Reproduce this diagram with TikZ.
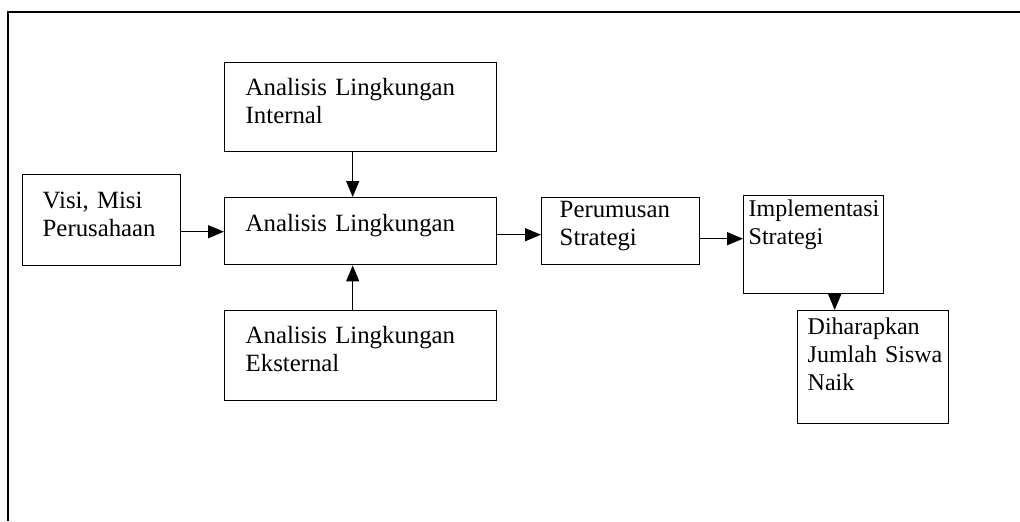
\documentclass[tikz,border=0pt]{standalone}
\usepackage{fontspec}
\setmainfont{Liberation Serif}
\usetikzlibrary{arrows.meta}

\begin{document}
\begin{tikzpicture}[x=0.5pt, y=-0.5pt, >={Triangle[length=8pt,width=6.5pt]},
    kotak/.style={draw, line width=0.7pt, anchor=north west, align=left,
        inner ysep=0pt, inner xsep=10pt,
        font=\fontsize{12.4}{14}\selectfont},
    kecil/.style={font=\fontsize{12}{14}\selectfont},
    panah/.style={->, line width=0.7pt}]
    % --- Impostazioni ---
    \def\lebar{115pt} % lebar teks kotak tengah
    \useasboundingbox (0,0) rectangle (1020,521);

    % --- Bingkai ---
    \draw[line width=1pt] (7.5,521) -- (7.5,12) -- (1020,12);

    % --- Kotak ---
    \node[kotak, text width=59pt, text height=16.8pt, text depth=28.7pt] (visi) at (22,174) {Visi, Misi\\Perusahaan};
    \node[kotak, inner xsep=10.5pt, text width=\lebar, text height=16.5pt, text depth=28pt] (intern) at (224,62) {Analisis Lingkungan\\Internal};
    \node[kotak, inner xsep=10.5pt, text width=\lebar, text height=17pt, text depth=16.5pt] (pusat) at (224,197) {Analisis Lingkungan};
    \node[kotak, inner xsep=10.5pt, text width=\lebar, text height=16.5pt, text depth=28.5pt] (ekstern) at (224,310) {Analisis Lingkungan\\Eksternal};
    \node[kotak, inner xsep=9pt, text width=61pt, text height=10pt, text depth=23.5pt] (rumus) at (541,197) {Perumusan\\Strategi};
    \node[kotak, kecil, inner xsep=2.5pt, text width=65pt, text height=10.5pt, text depth=38.5pt] (impl) at (743,195) {Implementasi\\Strategi};
    \node[kotak, kecil, inner xsep=5pt, text width=65.5pt, text height=12pt, text depth=44.5pt] (harap) at (797,310) {Diharapkan\\Jumlah~Siswa\\Naik};

    % --- Panah ---
    \draw[panah] (visi.east |- pusat.base) -- (pusat.base west);
    \coordinate (i1) at ([xshift=-4pt]intern.south);
    \draw[panah] (i1) -- (i1 |- pusat.north);
    \coordinate (e1) at ([xshift=-4pt]ekstern.north);
    \draw[panah] (e1) -- (e1 |- pusat.south);
    \coordinate (p1) at ([yshift=-1.75pt]pusat.east);
    \draw[panah] (p1) -- (p1 -| rumus.west);
    \coordinate (r1) at ([yshift=-3.75pt]rumus.east);
    \draw[panah] (r1) -- (r1 -| impl.west);
    \coordinate (h1) at ([xshift=10.5pt]impl.south);
    \draw[panah] (h1) -- (h1 |- harap.north);
\end{tikzpicture}
\end{document}
